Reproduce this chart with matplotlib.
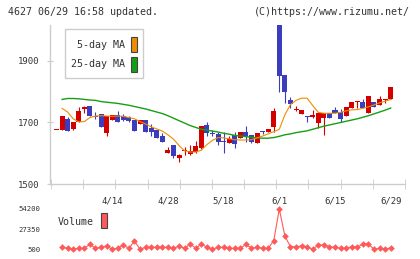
import numpy as np
import matplotlib.pyplot as plt
from matplotlib.patches import Rectangle

# daily candles (index 0 .. 60), prices in yen
opens = [1676, 1676, 1711, 1679, 1701, 1745, 1754, 1722, 1728, 1667,
         1708, 1723, 1720, 1718, 1709, 1694, 1708, 1682, 1676, 1656,
         1600, 1627, 1586, 1606, 1598, 1604, 1616, 1692, 1665, 1663,
         1640, 1634, 1659, 1650, 1668, 1660, 1634, 1672, 1670, 1686,
         2017, 1854, 1773, 1740, 1728, 1721, 1719, 1699, 1716, 1732,
         1741, 1734, 1722, 1748, 1766, 1768, 1732, 1766, 1757, 1774,
         1776]
closes = [1677, 1721, 1673, 1701, 1738, 1750, 1722, 1718, 1686, 1722,
          1723, 1702, 1709, 1706, 1673, 1708, 1670, 1669, 1648, 1638,
          1611, 1592, 1595, 1608, 1608, 1624, 1689, 1667, 1662, 1638,
          1637, 1646, 1630, 1670, 1657, 1638, 1667, 1668, 1679, 1738,
          1852, 1798, 1759, 1742, 1741, 1717, 1725, 1732, 1730, 1716,
          1732, 1711, 1749, 1766, 1769, 1748, 1786, 1749, 1775, 1776,
          1814]
highs = [1677, 1721, 1717, 1701, 1749, 1752, 1754, 1735, 1728, 1722,
         1723, 1738, 1727, 1722, 1709, 1708, 1708, 1694, 1676, 1665,
         1621, 1627, 1596, 1621, 1628, 1639, 1689, 1700, 1676, 1670,
         1670, 1657, 1668, 1670, 1689, 1660, 1667, 1672, 1679, 1746,
         2017, 1854, 1782, 1754, 1741, 1721, 1741, 1732, 1730, 1732,
         1749, 1744, 1749, 1766, 1769, 1775, 1786, 1766, 1786, 1776,
         1814]
lows = [1676, 1676, 1673, 1676, 1700, 1732, 1722, 1710, 1686, 1657,
        1708, 1702, 1705, 1703, 1673, 1694, 1670, 1656, 1648, 1638,
        1600, 1584, 1573, 1594, 1594, 1602, 1614, 1657, 1656, 1627,
        1600, 1634, 1616, 1650, 1638, 1632, 1634, 1664, 1670, 1670,
        1800, 1764, 1748, 1737, 1728, 1703, 1714, 1681, 1659, 1716,
        1732, 1703, 1722, 1748, 1748, 1748, 1732, 1749, 1757, 1762,
        1776]

# moving averages and volume start at index 1
ma5 = [1746, 1734, 1712, 1702, 1703, 1716, 1721, 1722, 1721, 1720,
       1721, 1720, 1716, 1712, 1703, 1695, 1686, 1679, 1672, 1660,
       1646, 1625, 1608, 1604, 1604, 1610, 1628, 1642, 1651, 1650,
       1647, 1644, 1643, 1643, 1644, 1650, 1656, 1663, 1670, 1678,
       1725, 1758, 1772, 1779, 1779, 1755, 1733, 1730, 1730, 1730,
       1733, 1738, 1741, 1742, 1746, 1751, 1757, 1764, 1769, 1775]
ma25 = [1775, 1778, 1778, 1777, 1775, 1773, 1772, 1768, 1766, 1764,
        1762, 1759, 1756, 1752, 1748, 1744, 1739, 1734, 1729, 1722,
        1714, 1706, 1698, 1690, 1684, 1678, 1675, 1672, 1669, 1665,
        1662, 1658, 1656, 1654, 1652, 1650, 1649, 1649, 1651, 1655,
        1660, 1663, 1667, 1670, 1673, 1678, 1683, 1688, 1692, 1696,
        1700, 1704, 1708, 1712, 1717, 1722, 1728, 1734, 1740, 1747]
volume = [3200, 1800, 500, 1800, 1800, 7200, 1800, 3200, 4900, 500,
          1800, 6200, 1800, 11500, 500, 3200, 3200, 3200, 3200, 3200,
          1800, 4900, 1800, 7600, 1800, 7600, 3200, 500, 3200, 3200,
          1800, 1800, 1800, 7200, 1800, 3200, 1800, 1800, 12000, 54200,
          18200, 4000, 4000, 4900, 4000, 500, 6200, 6200, 4000, 3200,
          1800, 1800, 4000, 3200, 7600, 7600, 500, 1800, 500, 2600]

date_idx = [10, 20, 30, 40, 50, 60]
date_labels = ['4/14', '4/28', '5/18', '6/1', '6/15', '6/29']
price_ticks = [1500, 1700, 1900]
vol_ticks = [500, 27350, 54200]

W, H = 420, 259
RED, BLUE = '#d40000', '#3c3cbe'
ORANGE, GREEN, VOLC = '#f08c00', '#14a014', '#ff5a5a'
GRAY = '#cccccc'
MONO = 'DejaVu Sans Mono'


def rect(l, t, r, b):
    return [l / W, 1 - b / H, (r - l) / W, (b - t) / H]


fig = plt.figure(figsize=(W / 100, H / 100), dpi=100)
fig.patch.set_facecolor('white')

step = 5.57
x0 = -(56.5 - 50) / step
x1 = x0 + 355 / step

ax = fig.add_axes(rect(50, 25, 405, 184))
idx = np.arange(len(opens))
o = np.array(opens)
c = np.array(closes)
up = c >= o
cols = np.where(up, RED, BLUE)
ax.vlines(idx, lows, highs, colors=cols, linewidth=0.8, zorder=2)
body_h = np.maximum(np.abs(c - o), 3)
ax.bar(idx, body_h, bottom=np.minimum(o, c), width=0.9, color=cols,
       linewidth=0, zorder=3)
ma_idx = np.arange(1, len(opens))
ax.plot(ma_idx, ma25, color=GREEN, linewidth=1.0, zorder=4)
ax.plot(ma_idx, ma5, color=ORANGE, linewidth=0.8, zorder=4)

ax.set_xlim(x0, x1)
ax.set_ylim(1500, 2017)
for s in ['top', 'right']:
    ax.spines[s].set_visible(False)
for s in ['left', 'bottom']:
    ax.spines[s].set_color(GRAY)
    ax.spines[s].set_linewidth(1)
ax.set_yticks(price_ticks)
ax.set_yticklabels([str(v) for v in price_ticks], fontsize=6.5,
                   family=MONO, color='#333333')
ax.tick_params(axis='y', direction='inout', length=5, color=GRAY, pad=5)
grid_x = x0 + (np.linspace(51, 405, 12) - 50) / step
ax.set_xticks(grid_x, minor=True)
ax.set_xticks(date_idx)
ax.set_xticklabels(date_labels, fontsize=6.5, family=MONO, color='#333333')
ax.tick_params(axis='x', which='major', length=0, pad=9)
ax.tick_params(axis='x', which='minor', direction='inout', length=7,
               color=GRAY)

# legend box
ax.add_patch(Rectangle((65 / W, 1 - 78 / H), 78 / W, 49 / H,
                       transform=fig.transFigure, facecolor='white',
                       edgecolor=GRAY, linewidth=1, zorder=5))
fig.text(125 / W, 1 - 45 / H, '5-day MA', ha='right', va='center',
         fontsize=7.2, family=MONO, color='#333333')
fig.text(125 / W, 1 - 64 / H, '25-day MA', ha='right', va='center',
         fontsize=7.2, family=MONO, color='#333333')
for yy, col in [(37, ORANGE), (57, GREEN)]:
    fig.patches.append(Rectangle((131 / W, 1 - (yy + 15) / H), 6 / W,
                                 15 / H, transform=fig.transFigure,
                                 facecolor=col, edgecolor='#444444',
                                 linewidth=0.8))

# volume panel
vax = fig.add_axes(rect(50, 205, 405, 253))
vax.plot(ma_idx, volume, color=VOLC, linewidth=0.8, marker='D',
         markersize=3.4, markeredgewidth=0)
vax.set_xlim(x0, x1)
vax.set_ylim(500 - 3.7 * 1332.5, 54200 + 4 * 1332.5)
for s in vax.spines.values():
    s.set_visible(False)
vax.set_xticks([])
vax.set_yticks(vol_ticks)
vax.set_yticklabels([str(v) for v in vol_ticks], fontsize=5.2,
                    family=MONO, color='#333333')
vax.tick_params(axis='y', length=0, pad=7)
fig.text(58 / W, 1 - 222 / H, 'Volume', ha='left', va='center',
         fontsize=7.2, family=MONO, color='#333333')
fig.patches.append(Rectangle((101 / W, 1 - 228 / H), 6 / W, 15 / H,
                             transform=fig.transFigure, facecolor=VOLC,
                             edgecolor='#444444', linewidth=0.8))

fig.text(8 / W, 1 - 12 / H, '4627 06/29 16:58 updated.', ha='left',
         va='center', fontsize=7.2, family=MONO, color='#333333')
fig.text(410 / W, 1 - 12 / H, '(C)https://www.rizumu.net/', ha='right',
         va='center', fontsize=7.2, family=MONO, color='#333333')

fig.savefig('out.png', dpi=100)
